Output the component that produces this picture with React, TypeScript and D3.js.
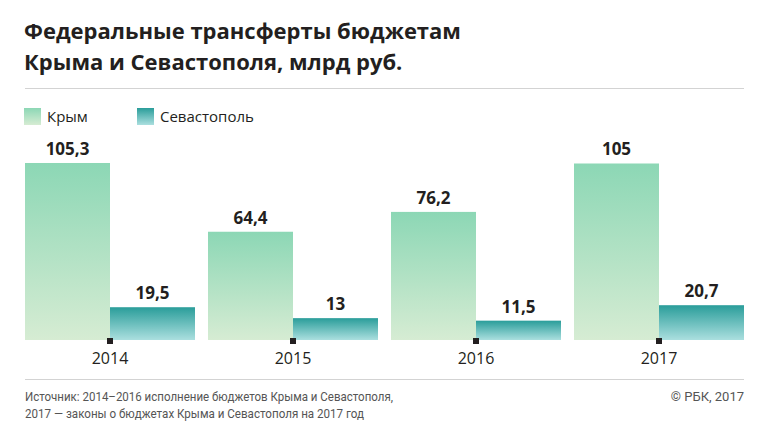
import * as React from 'react';
import * as d3 from 'd3';

const years = ['2014', '2015', '2016', '2017'];
const seriesNames = ['Крым', 'Севастополь'];
const crimea = [105.3, 64.4, 76.2, 105];
const sevastopol = [19.5, 13, 11.5, 20.7];

const gradients = [
  { id: 'gradCrimea', top: '#8cd7b5', bottom: '#d6ecd3' },
  { id: 'gradSev', top: '#2a9d9a', bottom: '#abdfdf' },
];

const fmt = (v: number) => String(v).replace('.', ',');

const App = () => {
  const width = 768;
  const height = 434;
  const left = 25;
  const right = 744;
  const baseline = 340;

  const x0 = d3.scaleBand<string>().domain(years).range([left, right]).paddingInner(13 / 183);
  const x1 = d3.scaleBand<string>().domain(seriesNames).range([0, x0.bandwidth()]);
  const y = d3.scaleLinear().domain([0, 110]).range([baseline, baseline - 110 * 1.681]);

  const values = [crimea, sevastopol];
  const font = "'Open Sans', 'Noto Sans', sans-serif";
  const small = "Roboto, 'Noto Sans', sans-serif";
  const dark = '#231f20';

  return (
    <svg width={width} height={height} style={{ position: 'absolute', left: 0, top: 0, fontFamily: font }}>
      <defs>
        {gradients.map(g => (
          <linearGradient key={g.id} id={g.id} x1="0" y1="0" x2="0" y2="1">
            <stop offset="0%" stopColor={g.top} />
            <stop offset="100%" stopColor={g.bottom} />
          </linearGradient>
        ))}
      </defs>
      <rect width={width} height={height} fill="#fff" />

      <text x={24} y={39} fontSize={22} fontWeight={700} fill={dark}>Федеральные трансферты бюджетам</text>
      <text x={24} y={70} fontSize={22} fontWeight={700} fill={dark}>Крыма и Севастополя, млрд руб.</text>
      <line x1={left} x2={right} y1={88.5} y2={88.5} stroke="#d3d3d3" strokeWidth={1} />

      {seriesNames.map((s, i) => {
        const lx = i === 0 ? 24 : 137;
        return (
          <g key={s}>
            <rect x={lx} y={108} width={17} height={17} fill={`url(#${gradients[i].id})`} />
            <text x={lx + 23} y={122} fontSize={15} fill={dark}>{s}</text>
          </g>
        );
      })}

      {years.map((yr, gi) => (
        <g key={yr} transform={`translate(${x0(yr)},0)`}>
          {seriesNames.map((s, si) => {
            const v = values[si][gi];
            const bx = x1(s)!;
            return (
              <g key={s}>
                <rect x={bx} y={y(v)} width={x1.bandwidth()} height={baseline - y(v)} fill={`url(#${gradients[si].id})`} />
                <text x={bx + x1.bandwidth() / 2} y={y(v) - 8} textAnchor="middle" fontSize={17} fontWeight={700} fill={dark}>
                  {fmt(v)}
                </text>
              </g>
            );
          })}
          <rect x={x0.bandwidth() / 2 - 3} y={338} width={6} height={6} fill={dark} />
          <text x={x0.bandwidth() / 2} y={364} textAnchor="middle" fontSize={16} fill={dark}>{yr}</text>
        </g>
      ))}

      <line x1={left} x2={right} y1={379.5} y2={379.5} stroke="#d3d3d3" strokeWidth={1} />
      <g fontFamily={small} fontSize={13} fill="#555">
        <text x={left} y={401} textLength={368} lengthAdjust="spacingAndGlyphs">Источник: 2014–2016 исполнение бюджетов Крыма и Севастополя,</text>
        <text x={left} y={418} textLength={339} lengthAdjust="spacingAndGlyphs">2017 — законы о бюджетах Крыма и Севастополя на 2017 год</text>
        <text x={right} y={401} textAnchor="end">© РБК, 2017</text>
      </g>
    </svg>
  );
};

export default App;
